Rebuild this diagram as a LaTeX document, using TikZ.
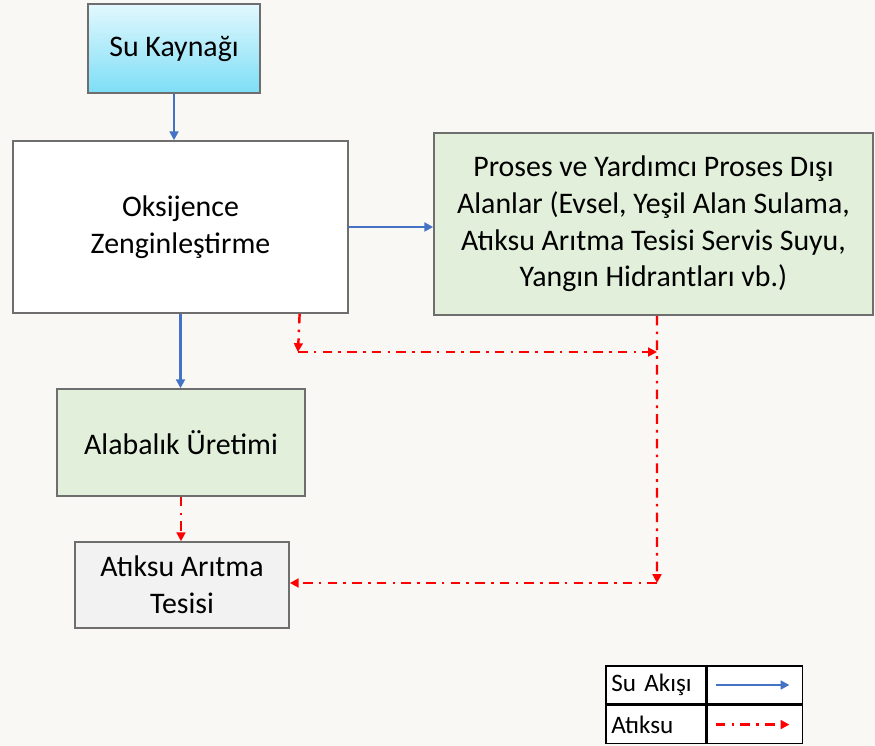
\documentclass[tikz,border=0pt]{standalone}
\usepackage{fontspec}
\setmainfont{Carlito}
\usepackage{xcolor}
\usetikzlibrary{arrows.meta, positioning, calc}
\definecolor{bg}{RGB}{249,248,245}
\definecolor{boxborder}{RGB}{110,110,110}
\definecolor{greenbg}{RGB}{226,239,218}
\definecolor{greybg}{RGB}{242,242,242}
\definecolor{skytop}{RGB}{226,248,254}
\definecolor{skybottom}{RGB}{125,222,246}
\definecolor{flowblue}{RGB}{68,114,196}
\definecolor{wastered}{RGB}{255,0,0}
\tikzset{
    box/.style={rectangle, draw=boxborder, line width=0.9pt, align=center, inner sep=0pt, font=\fontsize{17}{20.8}\selectfont},
    sourcebox/.style={box, top color=skytop, bottom color=skybottom, minimum width=3.44cm, minimum height=1.78cm},
    greenbox/.style={box, fill=greenbg},
    flow/.style={line width=1.3pt, draw=flowblue, -{Triangle[length=5pt, width=5pt]}},
    waste/.style={line width=1.4pt, draw=wastered, dash pattern=on 5.5pt off 3.5pt on 1.5pt off 3.5pt, -{Triangle[length=5pt, width=5pt]}},
    keycell/.style={rectangle, draw=black, line width=0.9pt, fill=white, inner xsep=3pt, inner ysep=0pt, minimum height=0.76cm, text width=1.79cm, align=left, font=\fontsize{14.3}{17}\selectfont}
}

\begin{document}
\begin{tikzpicture}[x=0.02cm, y=-0.02cm]
    % Background
    \fill[bg] (0,0) rectangle (875,746);
    \useasboundingbox (0,0) rectangle (875,746);

    % Nodes
    \node (source) [sourcebox] at (174,48.5) {Su Kaynağı};
    \node (oxygen) [box, fill=white, minimum width=6.7cm, minimum height=3.44cm] at (180.5,227) {Oksijence\\Zenginleştirme};
    \node (process) [greenbox, minimum width=8.78cm, minimum height=3.64cm] at (653.5,224) {Proses ve Yardımcı Proses Dışı\\Alanlar (Evsel, Yeşil Alan Sulama,\\Atıksu Arıtma Tesisi Servis Suyu,\\Yangın Hidrantları vb.)};
    \node (trout) [greenbox, minimum width=4.96cm, minimum height=2.14cm] at (181,442.5) {Alabalık Üretimi};
    \node (plant) [box, fill=greybg, minimum width=4.28cm, minimum height=1.72cm] at (182,585) {Atıksu Arıtma\\Tesisi};

    % Waste water corners
    \coordinate (oxout) at ($(oxygen.south west)!0.854!(oxygen.south east)$);
    \coordinate (procout) at ($(process.south)+(3.5,0)$);
    \coordinate (bend1) at (298,352);
    \coordinate (join1) at (657,352);
    \coordinate (bend2) at (657,583);

    % Water flow
    \draw [flow] (source) -- (source |- oxygen.north);
    \draw [flow] (oxygen) -- (oxygen -| process.west);
    \draw [flow] (oxygen.south) -- (oxygen.south |- trout.north);

    % Waste water
    \draw [waste] (trout.south) -- (trout.south |- plant.north);
    \draw [waste] (oxout) -- (bend1);
    \draw [waste] (bend1) -- (join1);
    \draw [waste] (procout) -- (bend2);
    \draw [waste] (bend2) -- (plant.east |- bend2);

    % Legend
    \node (keyflow) [keycell] at (656,685) {Su Akışı};
    \node (keywaste) [keycell, below=0pt of keyflow] {Atıksu};
    \node (flowcell) [keycell, right=0pt of keyflow, text width=1.69cm] {};
    \node (wastecell) [keycell, right=0pt of keywaste, text width=1.69cm] {};
    \draw [flow] ([xshift=0.18cm]flowcell.west) -- ([xshift=-0.28cm]flowcell.east);
    \draw [waste] ([xshift=0.18cm]wastecell.west) -- ([xshift=-0.28cm]wastecell.east);
\end{tikzpicture}
\end{document}
